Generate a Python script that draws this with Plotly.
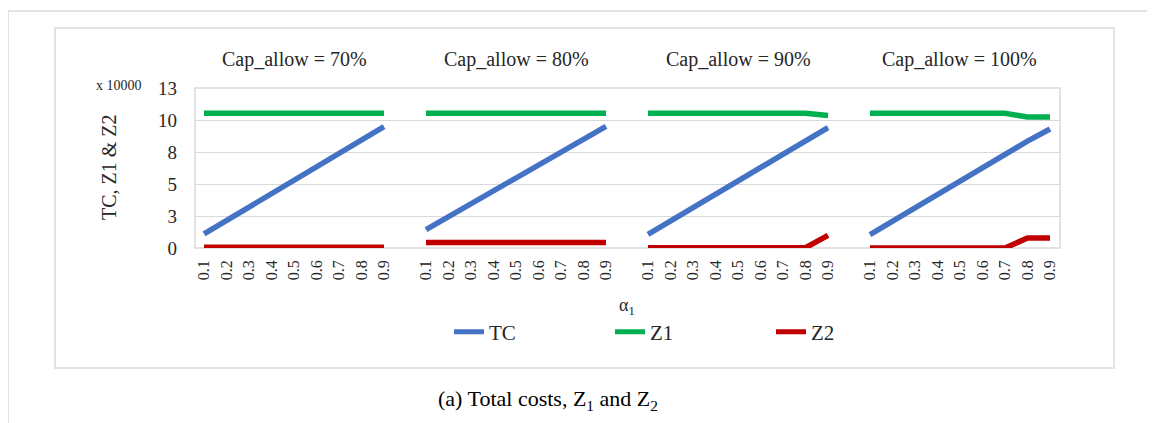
import plotly.graph_objects as go

# ---------------- data ----------------
alpha = ["0.1", "0.2", "0.3", "0.4", "0.5", "0.6", "0.7", "0.8", "0.9"]
panels = ["Cap_allow = 70%", "Cap_allow = 80%", "Cap_allow = 90%", "Cap_allow = 100%"]

tc_70 = [1.10, 2.15, 3.20, 4.25, 5.30, 6.35, 7.40, 8.45, 9.48]
z1_70 = [10.52, 10.52, 10.52, 10.52, 10.52, 10.52, 10.52, 10.52, 10.52]
z2_70 = [0.05, 0.05, 0.05, 0.05, 0.05, 0.05, 0.05, 0.05, 0.05]

tc_80 = [1.43, 2.44, 3.45, 4.46, 5.47, 6.48, 7.49, 8.50, 9.51]
z1_80 = [10.52, 10.52, 10.52, 10.52, 10.52, 10.52, 10.52, 10.52, 10.52]
z2_80 = [0.42, 0.42, 0.42, 0.42, 0.42, 0.42, 0.42, 0.42, 0.42]

tc_90 = [1.07, 2.12, 3.17, 4.22, 5.27, 6.32, 7.37, 8.42, 9.41]
z1_90 = [10.52, 10.52, 10.52, 10.52, 10.52, 10.52, 10.52, 10.52, 10.35]
z2_90 = [0.02, 0.02, 0.02, 0.02, 0.02, 0.02, 0.02, 0.02, 0.98]

tc_100 = [1.05, 2.10, 3.16, 4.21, 5.26, 6.31, 7.36, 8.35, 9.30]
z1_100 = [10.52, 10.52, 10.52, 10.52, 10.52, 10.52, 10.52, 10.24, 10.24]
z2_100 = [0.0, 0.0, 0.0, 0.0, 0.0, 0.0, 0.0, 0.78, 0.78]

y_tickvals = [0, 2.5, 5, 7.5, 10, 12.5]
y_ticktext = ["0", "3", "5", "8", "10", "13"]

series_names = ["TC", "Z1", "Z2"]
panel_data = [
    (tc_70, z1_70, z2_70),
    (tc_80, z1_80, z2_80),
    (tc_90, z1_90, z2_90),
    (tc_100, z1_100, z2_100),
]

# ---------------- style / layout ----------------
W, H = 1155, 423
OFF = 8  # page body margin
FONT = "Liberation Serif, Times New Roman, serif"
TXT = "#262626"
colors = {"TC": "#4472C4", "Z1": "#00B050", "Z2": "#C00000"}


def px(x):
    return (x - OFF) / W


def py(y):
    return 1 - (y - OFF) / H


# plot area in screen pixels
PL, PR, PT, PB = 195, 1060, 88, 248
bounds = [195, 405, 627, 849, 1060]
first_pt = [204, 426, 648, 870]
step = 22.5

fig = go.Figure()

for i, (vals, title) in enumerate(zip(panel_data, panels)):
    xa = "x" if i == 0 else f"x{i+1}"
    for name, v in zip(series_names, vals):
        fig.add_trace(go.Scatter(
            x=alpha, y=v, mode="lines", name=name,
            line=dict(color=colors[name], width=5.5),
            xaxis=xa, yaxis="y",
            legendgroup=name, showlegend=(i == 0),
            hoverinfo="x+y+name",
        ))

layout = dict(
    width=W, height=H,
    margin=dict(l=0, r=0, t=0, b=0, autoexpand=False),
    paper_bgcolor="white", plot_bgcolor="white",
    font=dict(family=FONT, color=TXT, size=16),
    showlegend=True,
    legend=dict(
        orientation="h", x=px(449), y=py(332), xanchor="left", yanchor="middle",
        font=dict(family=FONT, size=21, color=TXT),
        entrywidth=116, entrywidthmode="pixels",
        bgcolor="rgba(0,0,0,0)", itemsizing="constant",
    ),
    yaxis=dict(
        domain=[py(PB), py(PT)], range=[0, 12.5], anchor="x",
        tickvals=y_tickvals, ticktext=y_ticktext,
        showgrid=True, gridcolor="#d9d9d9", gridwidth=1,
        zeroline=False, showline=False, ticks="",
        ticklabelstandoff=17,
        tickfont=dict(family=FONT, size=19, color=TXT),
        automargin=False, fixedrange=True,
    ),
)

annotations = []
for i in range(4):
    key = "xaxis" if i == 0 else f"xaxis{i+1}"
    L, R = bounds[i], bounds[i + 1]
    p0 = first_pt[i]
    p8 = p0 + 8 * step
    rng = [-(p0 - L) / step, 8 + (R - p8) / step]
    layout[key] = dict(
        domain=[px(L), px(R)], range=rng, anchor="y", type="category",
        showgrid=False, zeroline=False, showline=False, ticks="",
        tickangle=-90, ticklabelstandoff=8,
        tickfont=dict(family=FONT, size=16, color=TXT),
        automargin=False, fixedrange=True,
    )
    annotations.append(dict(
        xref=("x" if i == 0 else f"x{i+1}"), yref="paper",
        x=4, y=py(60), text=panels[i], showarrow=False,
        font=dict(family=FONT, size=20, color=TXT),
        xanchor="center", yanchor="middle",
    ))

annotations += [
    dict(xref="paper", yref="paper", x=px(109), y=py(167), text="TC, Z1 &amp; Z2",
         textangle=-90, showarrow=False, font=dict(family=FONT, size=20, color=TXT),
         xanchor="center", yanchor="middle"),
    dict(xref="paper", yref="paper", x=px(119), y=py(85), text="x 10000",
         showarrow=False, font=dict(family=FONT, size=14, color=TXT),
         xanchor="center", yanchor="middle"),
    dict(xref="paper", yref="paper", x=px(627), y=py(306), text="α<sub>1</sub>",
         showarrow=False, font=dict(family=FONT, size=18, color=TXT),
         xanchor="center", yanchor="middle"),
    dict(xref="paper", yref="paper", x=px(548), y=py(400),
         text="(a) Total costs, Z<sub>1</sub> and Z<sub>2</sub>",
         showarrow=False, font=dict(family=FONT, size=22, color="#000000"),
         xanchor="center", yanchor="middle"),
]
layout["annotations"] = annotations

frame = "#e3e3e3"
layout["shapes"] = [
    # outer document frame
    dict(type="line", xref="paper", yref="paper", x0=px(8), x1=1, y0=py(11), y1=py(11),
         line=dict(color=frame, width=2)),
    dict(type="line", xref="paper", yref="paper", x0=px(8), x1=px(8), y0=py(11), y1=0,
         line=dict(color=frame, width=2)),
    # chart area box
    dict(type="rect", xref="paper", yref="paper", x0=px(55), x1=px(1114), y0=py(368), y1=py(28),
         line=dict(color=frame, width=2), layer="below"),
    # plot area border
    dict(type="rect", xref="paper", yref="paper", x0=px(PL), x1=px(PR), y0=py(PB), y1=py(PT),
         line=dict(color="#d9d9d9", width=1.5), layer="below"),
]

fig.update_layout(**layout)
fig.write_html("out.html")
